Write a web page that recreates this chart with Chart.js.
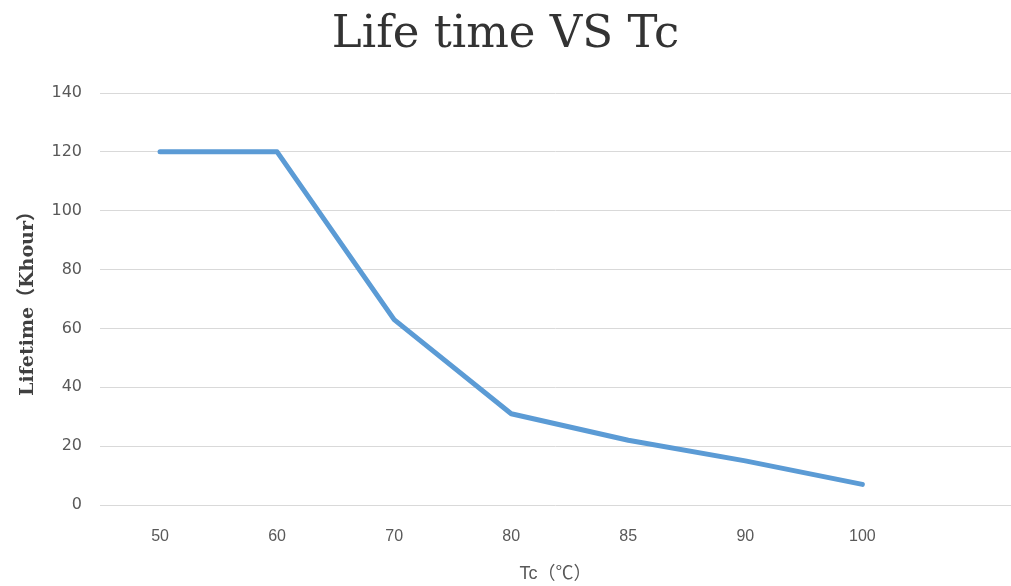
<!DOCTYPE html>
<html>
<head>
<meta charset="utf-8">
<script src="https://cdn.jsdelivr.net/npm/chart.js@4"></script>
<style>
html,body{margin:0;padding:0;background:#fff;overflow:hidden;}
canvas{display:block;}
</style>
</head>
<body>
<canvas id="c" width="1011" height="586"></canvas>
<script>
const categories = ['50', '60', '70', '80', '85', '90', '100'];
const lifetime = [120, 120, 63, 31, 22, 15, 7];
const yTicks = [0, 20, 40, 60, 80, 100, 120, 140];

const points = categories.map((c, i) => ({x: i, y: lifetime[i]}));

new Chart(document.getElementById('c'), {
  type: 'line',
  data: {
    datasets: [{
      data: points,
      borderColor: '#5b9bd5',
      borderWidth: 5,
      borderCapStyle: 'round',
      borderJoinStyle: 'round',
      pointRadius: 0,
      tension: 0,
      fill: false
    }]
  },
  options: {
    responsive: false,
    animation: false,
    layout: {padding: {left: 0, right: 0, top: 0, bottom: 0}},
    plugins: {
      legend: {display: false},
      tooltip: {enabled: false},
      title: {
        display: true,
        text: 'Life time VS Tc',
        color: '#333333',
        font: {family: '"DejaVu Serif", serif', size: 45, weight: 'normal'},
        padding: {top: 8, bottom: 31}
      }
    },
    scales: {
      x: {
        type: 'linear',
        min: -0.513,
        max: 7.27,
        grid: {display: false, drawTicks: false},
        border: {display: false},
        afterBuildTicks: (s) => { s.ticks = categories.map((c, i) => ({value: i})); },
        ticks: {
          autoSkip: false,
          maxRotation: 0,
          padding: 22,
          color: '#595959',
          font: {family: '"Liberation Sans", sans-serif', size: 16},
          callback: (v) => categories[Math.round(v)] ?? ''
        },
        title: {
          display: true,
          text: 'Tc（℃）',
          color: '#595959',
          font: {family: '"Liberation Sans", "Noto Sans CJK SC", sans-serif', size: 18},
          padding: {top: 0, bottom: 1}
        },
        afterFit: (s) => { s.height = 81; s.paddingLeft = 0; s.paddingRight = 0; }
      },
      y: {
        min: 0,
        max: 140,
        grid: {color: '#d9d9d9', lineWidth: 1, drawTicks: false},
        border: {display: false},
        ticks: {
          stepSize: 20,
          padding: 18,
          color: '#595959',
          font: {family: '"DejaVu Sans", sans-serif', size: 16},
          callback: (v) => yTicks.includes(v) ? String(v) : ''
        },
        title: {
          display: true,
          text: 'Lifetime（Khour）',
          color: '#404040',
          font: {family: '"DejaVu Serif", "Noto Sans CJK SC", serif', size: 19, weight: 'bold'},
          padding: {top: 17, bottom: 0}
        },
        afterFit: (s) => { s.width = 100; s.paddingTop = 0; s.paddingBottom = 0; }
      }
    }
  }
});
</script>
</body>
</html>
